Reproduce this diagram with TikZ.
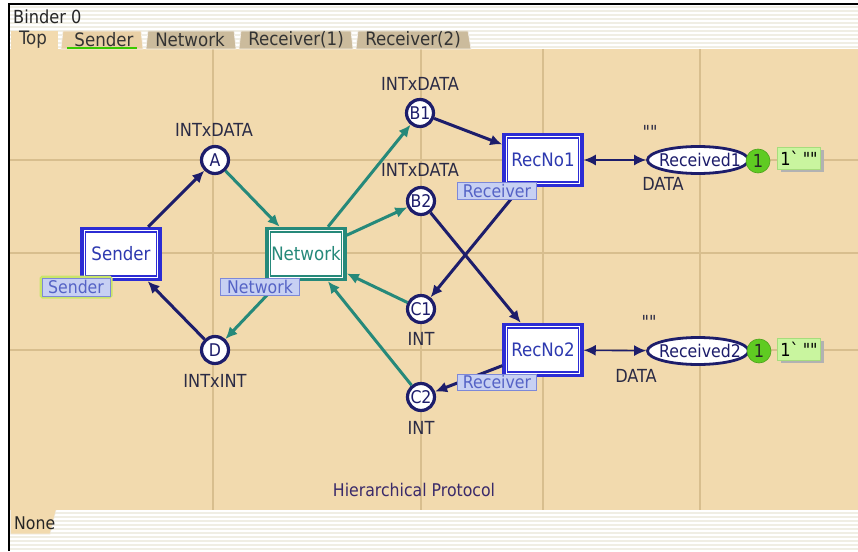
\documentclass[tikz,border=0pt]{standalone}
\usepackage{fontspec}
\setmainfont{DejaVu Sans Condensed}[Ligatures=TeXOff]
\usetikzlibrary{shapes.geometric,arrows.meta}

\definecolor{canvas}{HTML}{F2DAAE}
\definecolor{gridc}{HTML}{D8BE8E}
\definecolor{arcnavy}{HTML}{1D1D6B}
\definecolor{arcteal}{HTML}{26897A}
\definecolor{tblue}{HTML}{2C2CD4}
\definecolor{tnametext}{HTML}{2E3AB0}
\definecolor{tagfill}{HTML}{C7D0F3}
\definecolor{tagdraw}{HTML}{7D88D8}
\definecolor{tagtext}{HTML}{5563C6}
\definecolor{tagglow}{HTML}{C9E56A}
\definecolor{labtext}{HTML}{2B2B45}
\definecolor{tokgreen}{HTML}{5FCB22}
\definecolor{tokbox}{HTML}{C9F59F}
\definecolor{tokboxd}{HTML}{A6DC7C}
\definecolor{tabc}{HTML}{CBBB9C}
\definecolor{tabsel}{HTML}{E9D0A6}
\definecolor{stripe}{HTML}{F0EEE4}
\definecolor{titletext}{HTML}{3A2A6A}

\newcommand\fsz[1]{\fontsize{#1}{#1}\selectfont}

\begin{document}
\begin{tikzpicture}[x=1pt,y=-1pt,
  place/.style={circle, draw=arcnavy, line width=3.2pt, fill=white,
    minimum size=27pt, inner sep=0pt, font=\fsz{17.5}, text=arcnavy},
  trans/.style={rectangle, draw=#1, line width=3.5pt, fill=white,
    minimum width=78pt, minimum height=51pt, inner sep=0pt,
    font=\fsz{18.5},
    path picture={\draw[#1,line width=1.6pt]
      ([shift={(3.6pt,-3.6pt)}]path picture bounding box.north west) rectangle
      ([shift={(-3.6pt,3.6pt)}]path picture bounding box.south east);}},
  trans/.default=tblue,
  tag/.style={rectangle, fill=tagfill, draw=tagdraw, line width=1pt,
    text=tagtext, font=\fsz{17.5}, inner sep=0pt,
    minimum height=17pt, minimum width=79pt},
  plabel/.style={font=\fsz{18}, text=labtext, inner sep=0pt},
  recplace/.style={ellipse, draw=arcnavy, line width=2.8pt, fill=white,
    minimum width=101pt, minimum height=27pt, inner sep=0pt},
  token/.style={circle, fill=tokgreen, draw=tokgreen!80!black, line width=0.6pt,
    minimum size=24pt, inner sep=0pt, font=\fsz{18}, text=black!85},
  tokenbox/.style={rectangle, fill=tokbox, draw=tokboxd, line width=1pt,
    minimum width=43pt, minimum height=22pt, inner sep=0pt, font=\fsz{18}},
  arc/.style={line width=3pt, arcnavy, -{Latex[length=12pt,width=11pt]}},
  tarc/.style={arc, arcteal},
  darc/.style={line width=1.6pt, arcnavy,
    {Latex[length=12pt,width=11pt]}-{Latex[length=12pt,width=11pt]}},
  tabshape/.style={draw=white!80!tabc, line width=0.6pt},
  tabtext/.style={font=\fsz{18.5}, text=black!80, inner sep=0pt}
]
\useasboundingbox (0,0) rectangle (858,551);

% window background with striped header and footer
\fill[white] (0,0) rectangle (858,551);
\foreach \yy in {7,11,...,47} \draw[stripe, line width=2pt] (9,\yy) -- (858,\yy);
\foreach \yy in {513,517,...,551} \draw[stripe, line width=2pt] (9,\yy) -- (858,\yy);

% drawing canvas and its grid
\fill[canvas] (9,49) rectangle (858,510);
\foreach \xx in {213,421,543,700} \draw[gridc, line width=1.4pt] (\xx,49) -- (\xx,510);
\foreach \yy in {160,253,350} \draw[gridc, line width=1.4pt] (9,\yy) -- (858,\yy);

% frame
\draw[black, line width=2.5pt] (9,551) -- (9,4) -- (858,4);

% binder title and page tabs
\node[anchor=west, font=\fsz{18}, text=black!85, inner sep=0pt] (binder) at (13,17) {Binder 0};
\fill[canvas] (10.5,31) rectangle (58,49);
\node[tabtext] (tabtop) at (33,40) {Top};
\filldraw[tabshape, fill=tabsel] (61,49) -- (63,31) -- (141,31) -- (143,49) -- cycle;
\node[tabtext] (tabsender) at (104,40) {Sender};
\draw[green!70!black!70!lime, line width=2pt] (67,48) -- (137,48);
\filldraw[tabshape, fill=tabc] (146,49) -- (148,31) -- (234,31) -- (236,49) -- cycle;
\node[tabtext] (tabnet) at (190,40) {Network};
\filldraw[tabshape, fill=tabc] (239,49) -- (241,31) -- (351,31) -- (353,49) -- cycle;
\node[tabtext] (tabr1) at (296,40) {Receiver(1)};
\filldraw[tabshape, fill=tabc] (356,49) -- (358,31) -- (468,31) -- (471,49) -- cycle;
\node[tabtext] (tabr2) at (413,40) {Receiver(2)};

% footer tab
\filldraw[fill=canvas, draw=white!70!tabc, line width=0.6pt] (10.5,510) -- (10.5,534) -- (50,534) -- (56,510);
\node[anchor=west, font=\fsz{17.5}, text=black!85, inner sep=0pt] (none) at (14,523) {None};

% places
\node[place] (A)  at (215,160) {A};
\node[place] (D)  at (215,350) {D};
\node[place] (B1) at (420,113) {B1};
\node[place] (B2) at (421,201) {B2};
\node[place] (C1) at (421,309) {C1};
\node[place] (C2) at (421,397) {C2};

\node[plabel] (Atype)  at (214,130) {INTxDATA};
\node[plabel] (Dtype)  at (215,381) {INTxINT};
\node[plabel] (B1type) at (420,84)  {INTxDATA};
\node[plabel] (B2type) at (420,170) {INTxDATA};
\node[plabel] (C1type) at (421,339) {INT};
\node[plabel] (C2type) at (421,428) {INT};

% substitution transitions
\node[trans, text=tnametext] (sender) at (121,254) {Sender};
\node[trans=arcteal, text=arcteal] (net) at (306,254) {Network};
\node[trans, text=tnametext] (rec1) at (543,160) {RecNo1};
\node[trans, text=tnametext] (rec2) at (543,350) {RecNo2};

% receiving places with their markings
\node[recplace] (r1) at (698,160) {};
\node[font=\fsz{17.5}, text=arcnavy, inner sep=0pt] (r1name) at (700,160) {Received1};
\node[recplace] (r2) at (698,351) {};
\node[font=\fsz{17.5}, text=arcnavy, inner sep=0pt] (r2name) at (700,351) {Received2};

\node[plabel] (r1init) at (650,132) {""};
\node[plabel] (r2init) at (649,322) {""};
\node[plabel] (r1type) at (663,184) {DATA};
\node[plabel] (r2type) at (636,376) {DATA};

\node[token] (tok1) at (758,161) {1};
\node[token] (tok2) at (759,351) {1};
\fill[black!30] (781,150) rectangle (824,172);
\node[tokenbox] (mark1) at (799,158) {1`\hspace{4pt}""};
\fill[black!30] (781,341) rectangle (824,363);
\node[tokenbox] (mark2) at (799,349) {1`\hspace{4pt}""};

% arcs
\draw[arc]  (sender) -- (A);
\draw[arc]  (D) -- (sender);
\draw[tarc] (A) -- (net);
\draw[tarc] (net) -- (D);
\draw[tarc] (net) -- (B1);
\draw[tarc] (net) -- (B2);
\draw[tarc] (C1) -- (net);
\draw[tarc] (C2) -- (net);
\draw[arc]  (B1) -- (rec1);
\draw[arc]  (B2) -- (rec2);
\draw[arc]  (rec1) -- (C1);
\draw[arc]  (rec2) -- (C2);
\draw[darc] (rec1) -- (r1);
\draw[darc] (rec2) -- (r2);

% subpage tags
\draw[tagglow, line width=5pt, rounded corners=1pt] (42,278) rectangle (110,296);
\node[tag, minimum width=68pt, minimum height=18pt] (sendertag) at (76,287) {Sender};
\node[tag] (nettag)  at (260,287) {Network};
\node[tag] (rec1tag) at (497,191) {Receiver};
\node[tag, minimum height=16pt] (rec2tag) at (497,382) {Receiver};

% page title
\node[font=\fsz{17.5}, text=titletext, inner sep=0pt] (title) at (414,490) {Hierarchical Protocol};
\end{tikzpicture}
\end{document}
